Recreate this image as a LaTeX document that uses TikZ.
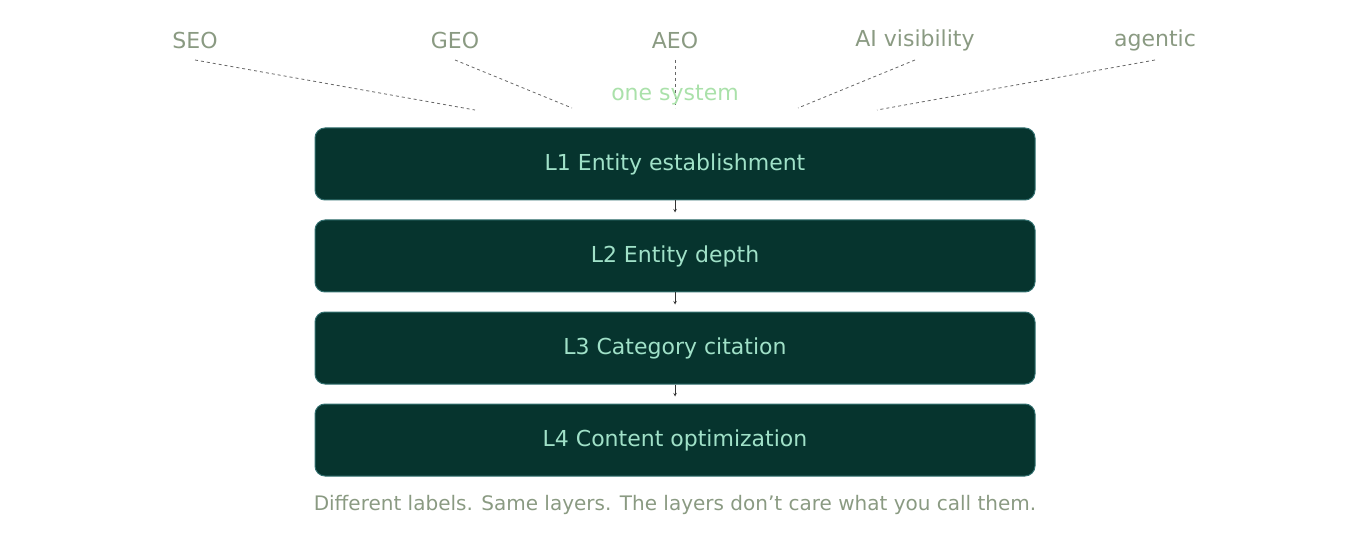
\documentclass[tikz,border=0pt]{standalone}
\usepackage{fontspec}
\setmainfont{DejaVu Sans}
\begin{document}
\begin{tikzpicture}[x=1pt,y=-1pt,
  layer/.style={draw=teal!60!black!80, fill={rgb,255:red,6;green,52;blue,46}, rounded corners=10pt, minimum width=720pt, minimum height=72pt, text={rgb,255:red,160;green,225;blue,200}, font=\fontsize{22}{26}\selectfont, line width=1pt},
  lbl/.style={text={rgb,255:red,138;green,154;blue,130}, font=\fontsize{22}{26}\selectfont},
  dl/.style={dashed, draw=gray!80!black, line width=0.8pt},
  ar/.style={->, >=stealth, line width=0.6pt, draw=black!80}]
\useasboundingbox (0,0) rectangle (1350,540);
\node[lbl] (seo) at (195,40) {SEO};
\node[lbl] (geo) at (455,40) {GEO};
\node[lbl] (aeo) at (675,40) {AEO};
\node[lbl] (ai) at (915,40) {AI visibility};
\node[lbl] (ag) at (1155,40) {agentic};
\coordinate (s1) at (195,60); \coordinate (e1) at (475,110);
\coordinate (s2) at (455,60); \coordinate (e2) at (572,108);
\coordinate (s3) at (675,60); \coordinate (e3) at (675,108);
\coordinate (s4) at (915,60); \coordinate (e4) at (798,108);
\coordinate (s5) at (1155,60); \coordinate (e5) at (877,110);
\foreach \i in {1,...,5} \draw[dl] (s\i) -- (e\i);
\node[text={rgb,255:red,170;green,225;blue,170}, font=\fontsize{22}{26}\selectfont] (one) at (675,95) {one system};
\node[layer] (l1) at (675,164) {L1 Entity establishment};
\node[layer] (l2) at (675,256) {L2 Entity depth};
\node[layer] (l3) at (675,348) {L3 Category citation};
\node[layer] (l4) at (675,440) {L4 Content optimization};
\draw[ar] (l1.south) -- ++(0,12);
\draw[ar] (l2.south) -- ++(0,12);
\draw[ar] (l3.south) -- ++(0,12);
\node[lbl, font=\fontsize{20}{24}\selectfont] (cap) at (675,505) {Different labels. Same layers. The layers don't care what you call them.};
\end{tikzpicture}
\end{document}
